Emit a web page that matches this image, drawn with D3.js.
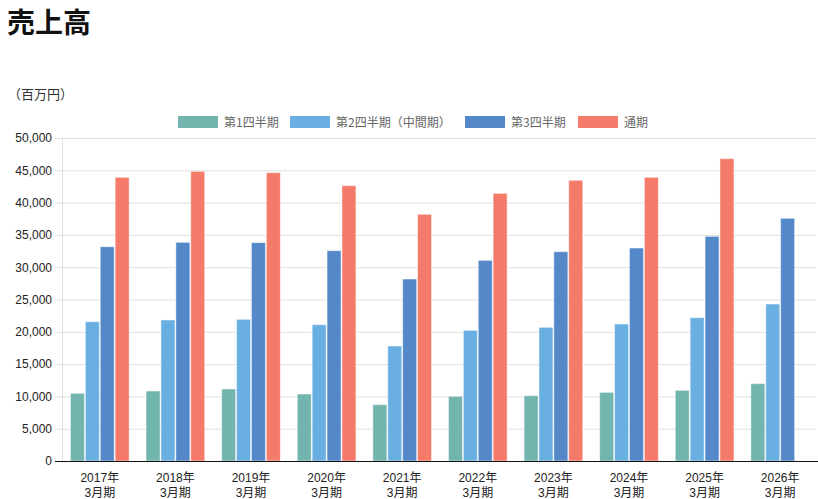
<!DOCTYPE html>
<html>
<head>
<meta charset="utf-8">
<script src="https://cdn.jsdelivr.net/npm/d3@7"></script>
<style>
body{margin:0;background:#fff;font-family:"Noto Sans CJK JP","Noto Sans",sans-serif;}
</style>
</head>
<body>
<svg width="818" height="499"></svg>
<script>
var years = ["2017年","2018年","2019年","2020年","2021年","2022年","2023年","2024年","2025年","2026年"];
var seriesNames = ["第1四半期","第2四半期（中間期）","第3四半期","通期"];
var colors = ["#72b4ae","#6aafe1","#5488c8","#f47a6a"];
var q1 = [10480,10840,11150,10370,8720,10010,10110,10630,10940,11970];
var q2 = [21560,21830,21930,21100,17800,20230,20690,21210,22190,24300];
var q3 = [33170,33850,33800,32560,28170,31060,32400,32970,34780,37570];
var full = [43910,44840,44630,42620,38190,41430,43450,43910,46800,null];
var yTicks = [0,5000,10000,15000,20000,25000,30000,35000,40000,45000,50000];

var series = [q1,q2,q3,full];
var width = 818, height = 499;
var margin = ({top: 138, right: 0, bottom: 38, left: 62});

var svg = d3.select("svg");

svg.append("text").attr("x", 7).attr("y", 33)
  .attr("font-size", 28).attr("font-weight", "bold").attr("fill", "#111").text("売上高");
svg.append("text").attr("x", 8).attr("y", 99)
  .attr("font-size", 13).attr("fill", "#333").text("（百万円）");

var x = d3.scaleBand().domain(years).range([margin.left, width - margin.right]).paddingInner(0.2).paddingOuter(0.1);
var x1 = d3.scaleBand().domain(d3.range(4)).range([0, x.bandwidth()]).padding(0.06);
var y = d3.scaleLinear().domain([0, 50000]).range([height - margin.bottom, margin.top]);

// grid
svg.append("g").selectAll("line").data(yTicks).join("line")
  .attr("x1", margin.left - 7).attr("x2", width - 2)
  .attr("y1", d => y(d) + 0.5).attr("y2", d => y(d) + 0.5)
  .attr("stroke", "#e0e0e0");
svg.append("line").attr("x1", margin.left + 0.5).attr("x2", margin.left + 0.5)
  .attr("y1", margin.top).attr("y2", y(0)).attr("stroke", "#e0e0e0");

var yAxis = svg.append("g").attr("transform", "translate(" + (margin.left - 7) + ",0)")
  .call(d3.axisLeft(y).tickValues(yTicks).tickSize(0).tickPadding(3).tickFormat(d3.format(",")));
yAxis.select(".domain").remove();
yAxis.selectAll("text").attr("font-size", 12).attr("fill", "#222").attr("font-family", "Arial, 'Liberation Sans', sans-serif");

// bars
series.forEach(function(vals, si){
  svg.append("g").selectAll("rect")
    .data(years.map((yr, i) => ({yr: yr, v: vals[i]})).filter(d => d.v != null))
    .join("rect")
    .attr("x", d => x(d.yr) + x1(si))
    .attr("y", d => y(d.v))
    .attr("width", x1.bandwidth())
    .attr("height", d => y(0) - y(d.v))
    .attr("fill", colors[si])
    .attr("stroke", "#fff").attr("stroke-opacity", 0.5).attr("stroke-width", 1);
});

// x axis
svg.append("line").attr("x1", margin.left - 7).attr("x2", width)
  .attr("y1", y(0) + 0.5).attr("y2", y(0) + 0.5).attr("stroke", "#111");
var xg = svg.append("g").attr("font-size", 12).attr("fill", "#222").attr("text-anchor", "middle")
  .attr("font-family", "'Liberation Sans', 'Noto Sans CJK JP', sans-serif");
xg.selectAll("text.yr").data(years).join("text").attr("class", "yr")
  .attr("x", d => x(d) + x.bandwidth() / 2).attr("y", 482).text(d => d);
xg.selectAll("text.mo").data(years).join("text").attr("class", "mo")
  .attr("x", d => x(d) + x.bandwidth() / 2).attr("y", 497).text("3月期");

// legend
var legX = [178, 290, 465, 578];
var leg = svg.append("g").selectAll("g").data(seriesNames).join("g")
  .attr("transform", (d, i) => "translate(" + legX[i] + ",116)");
leg.append("rect").attr("width", 40).attr("height", 12).attr("fill", (d, i) => colors[i]);
leg.append("text").attr("x", 46).attr("y", 10.5).attr("font-size", 12).attr("fill", "#666").text(d => d);
</script>
</body>
</html>
